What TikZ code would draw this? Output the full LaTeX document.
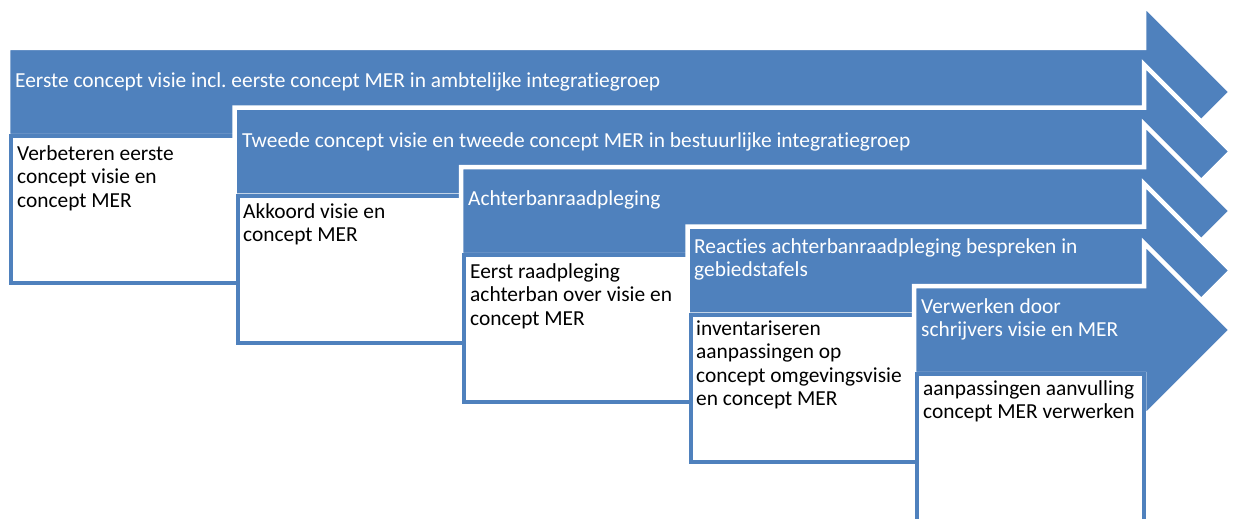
\documentclass[tikz,border=0pt]{standalone}
\usepackage{fontspec}
\setmainfont{Carlito}[Ligatures=NoCommon]
\frenchspacing
\definecolor{acc}{HTML}{4F81BD}
\newcommand{\stagearrow}[2]{%
  \draw[arrowshape] (#1,#2-44) -- (1144,#2-44) -- (1144,#2-87) -- (1231,#2)
    -- (1144,#2+87) -- (1144,#2+44) -- (#1,#2+44) -- cycle;}
\newcommand{\stagebox}[2]{%
  \draw[boxshape] (#1+3,#2+44) rectangle (#1+229.5,#2+191);}
\begin{document}
\begin{tikzpicture}[x=1pt,y=-1pt,
  arrowshape/.style={fill=acc, draw=white, line width=4.5pt, line join=miter},
  boxshape/.style={fill=white, draw=acc, line width=4pt},
  bartext/.style={anchor=base west, inner sep=0pt, text=white,
    font=\fontsize{21.4}{23.5}\selectfont, align=left},
  boxtext/.style={anchor=base west, inner sep=0pt, text=black,
    font=\fontsize{21.4}{23.5}\selectfont, align=left}]
\useasboundingbox (0,0) rectangle (1237,519);
\clip (0,0) rectangle (1237,519);
\fill[white] (0,0) rectangle (1237,519);

\stagearrow{8}{92}
\stagebox{8}{92}
\node[bartext] (t1) at (15,88) {Eerste concept visie incl. eerste concept MER in ambtelijke integratiegroep};
\node[boxtext] (b1) at (17,207) {Verbeteren eerste\\concept visie en\\concept MER};

\stagearrow{234.5}{151.5}
\stagebox{234.5}{151.5}
\node[bartext] (t2) at (242,147) {Tweede concept visie en tweede concept MER in bestuurlijke integratiegroep};
\node[boxtext] (b2) at (243,241.5) {Akkoord visie en\\concept MER};

\stagearrow{461}{211}
\stagebox{461}{211}
\node[bartext] (t3) at (468,205) {Achterbanraadpleging};
\node[boxtext] (b3) at (470,325) {Eerst raadpleging\\achterban over visie en\\concept MER};

\stagearrow{687.5}{270.5}
\stagebox{687.5}{270.5}
\node[bartext] (t4) at (694,276.5) {Reacties achterbanraadpleging bespreken in\\gebiedstafels};
\node[boxtext] (b4) at (696,405.5) {inventariseren\\aanpassingen op\\concept omgevingsvisie\\en concept MER};

\stagearrow{914}{330}
\stagebox{914}{330}
\node[bartext] (t5) at (921,336.5) {Verwerken door\\schrijvers visie en MER};
\node[boxtext] (b5) at (923,418.5) {aanpassingen aanvulling\\concept MER verwerken};
\end{tikzpicture}
\end{document}
